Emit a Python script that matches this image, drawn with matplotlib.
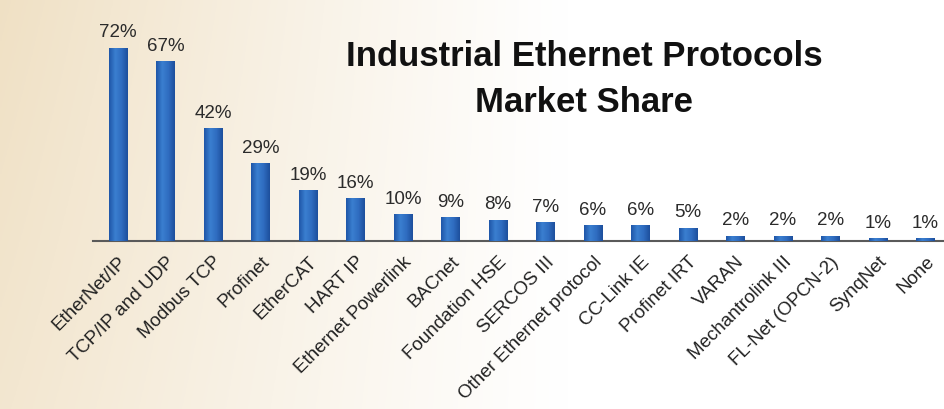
import numpy as np
import matplotlib
matplotlib.use("Agg")
import matplotlib.pyplot as plt
from matplotlib.colors import LinearSegmentedColormap

protocols = ["EtherNet/IP", "TCP/IP and UDP", "Modbus TCP", "Profinet", "EtherCAT",
             "HART IP", "Ethernet Powerlink", "BACnet", "Foundation HSE", "SERCOS III",
             "Other Ethernet protocol", "CC-Link IE", "Profinet IRT", "VARAN",
             "Mechantrolink III", "FL-Net (OPCN-2)", "SynqNet", "None"]
shares = [72, 67, 42, 29, 19, 16, 10, 9, 8, 7, 6, 6, 5, 2, 2, 2, 1, 1]
value_labels = [f"{v}%" for v in shares]
title = "Industrial Ethernet Protocols\nMarket Share"

plt.rcParams['font.family'] = ['Liberation Sans', 'DejaVu Sans']

W, H = 944, 409
fig = plt.figure(figsize=(W / 100, H / 100), dpi=100)

# background: beige on the left fading to white
bg = fig.add_axes([0, 0, 1, 1])
bg.set_axis_off()
xx, yy = np.meshgrid(np.linspace(0, 1, 400), np.linspace(0, 1, 200))
t = np.clip(1 - xx / 0.6, 0, 1) ** 1.1
t = t * (0.8 + 0.2 * yy)
beige = np.array([0.94, 0.88, 0.77])
white = np.array([1.0, 1.0, 1.0])
img = white[None, None, :] * (1 - t[..., None]) + beige[None, None, :] * t[..., None]
bg.imshow(img, extent=[0, 1, 0, 1], aspect='auto', origin='lower')
bg.set_xlim(0, 1)
bg.set_ylim(0, 1)

ax = fig.add_axes([93 / W, (H - 241) / H, (W - 93) / W, 231 / H])
ax.patch.set_alpha(0)
x = np.arange(len(shares))
bars = ax.bar(x, shares, width=0.39, color='#2d6cc0', zorder=2)

# gradient fill on each bar
cmap = LinearSegmentedColormap.from_list("bar", ["#1f56a8", "#3a7fd0", "#2f6cc0", "#1d4f9c"])
grad = np.linspace(0, 1, 64)[None, :]
for b in bars:
    x0, w, h = b.get_x(), b.get_width(), b.get_height()
    im = ax.imshow(grad, extent=[x0, x0 + w, 0, h], aspect='auto', cmap=cmap, zorder=3)
    im.set_clip_path(b)

for xi, v, lab in zip(x, shares, value_labels):
    ax.annotate(lab, (xi, v), xytext=(0, 4.5), textcoords='offset points',
                ha='center', va='bottom', fontsize=13.5, color='#2b2b2b')

ax.set_xlim(-0.526, 17.39)
ax.set_ylim(0, 86)
ax.set_aspect('auto')
for s in ['top', 'right', 'left']:
    ax.spines[s].set_visible(False)
ax.spines['bottom'].set_color('#5a5a5a')
ax.spines['bottom'].set_linewidth(1.5)
ax.set_yticks([])
ax.set_xticks(x)
ax.set_xticklabels(protocols, rotation=45, ha='right', rotation_mode='anchor',
                   fontsize=13.5, color='#222222')
ax.tick_params(axis='x', length=0, pad=9)

fig.text(584 / W, 1 - 80 / H, title, ha='center', va='center', fontsize=25,
         fontweight='bold', color='#111111', linespacing=1.5)

fig.savefig("out.png", dpi=100)
